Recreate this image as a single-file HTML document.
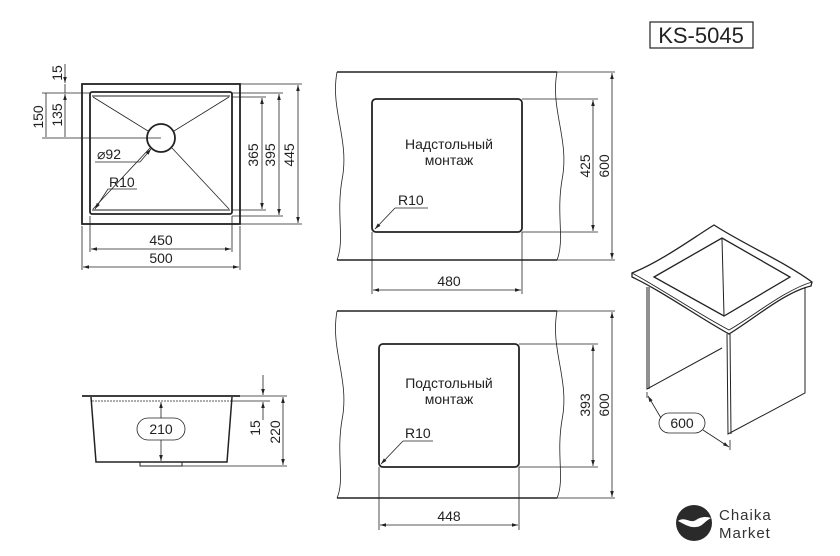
<!DOCTYPE html>
<html><head><meta charset="utf-8"><style>
html,body{margin:0;padding:0;background:#fff;}
svg{display:block;}
text{font-family:"Liberation Sans",sans-serif;fill:#222;}
</style></head><body>
<svg width="840" height="556" viewBox="0 0 840 556" xmlns="http://www.w3.org/2000/svg">
<defs>
<marker id="a" viewBox="0 0 10 10" refX="10" refY="5" markerWidth="9" markerHeight="6" orient="auto-start-reverse" markerUnits="userSpaceOnUse"><path d="M0,2L10,5L0,8z" fill="#222"/></marker>
</defs>
<g stroke="#222" fill="none">
<rect x="82" y="84" width="158" height="140" stroke-width="1.8"/>
<rect x="90" y="92" width="142" height="122" rx="2" stroke-width="1.8"/>
<line x1="92" y1="96" x2="230" y2="96" stroke-width="1"/>
<line x1="92" y1="210" x2="230" y2="210" stroke-width="1"/>
<circle cx="161" cy="138" r="14" stroke-width="1.8"/>
<g stroke-width="0.8">
<line x1="93" y1="97" x2="148" y2="131"/><line x1="229" y1="97" x2="174" y2="131"/>
<line x1="93" y1="209" x2="150" y2="148"/><line x1="229" y1="209" x2="172" y2="148"/>
<line x1="90" y1="216" x2="90" y2="252"/><line x1="232" y1="216" x2="232" y2="252"/>
<line x1="82" y1="226" x2="82" y2="270"/><line x1="240" y1="226" x2="240" y2="270"/>
<line x1="91" y1="249" x2="231" y2="249" marker-start="url(#a)" marker-end="url(#a)"/>
<line x1="83" y1="267" x2="239" y2="267" marker-start="url(#a)" marker-end="url(#a)"/>
<line x1="232" y1="97" x2="266" y2="97"/><line x1="232" y1="210" x2="266" y2="210"/>
<line x1="232" y1="93" x2="283" y2="93"/><line x1="232" y1="216" x2="283" y2="216"/>
<line x1="240" y1="84" x2="302" y2="84"/><line x1="240" y1="224" x2="302" y2="224"/>
<line x1="262" y1="98" x2="262" y2="209" marker-start="url(#a)" marker-end="url(#a)"/>
<line x1="279" y1="94" x2="279" y2="215" marker-start="url(#a)" marker-end="url(#a)"/>
<line x1="298" y1="85" x2="298" y2="223" marker-start="url(#a)" marker-end="url(#a)"/>
<line x1="42" y1="93" x2="90" y2="93"/><line x1="42" y1="138" x2="161" y2="138"/>
<line x1="65" y1="64" x2="65" y2="83" marker-end="url(#a)"/>
<line x1="65" y1="84" x2="65" y2="93"/>
<line x1="65" y1="137" x2="65" y2="94" marker-end="url(#a)"/>
<line x1="46" y1="137" x2="46" y2="93"/>
<line x1="95" y1="162" x2="140" y2="162"/><line x1="140" y1="162" x2="151" y2="149" marker-end="url(#a)"/>
<line x1="108" y1="189" x2="137" y2="189"/><line x1="108" y1="189" x2="95" y2="209" marker-end="url(#a)"/>
</g>
<path d="M337,72 L557,72 M337,260 L557,260" stroke-width="1.5"/>
<path d="M337,72 C330,110 350,140 342,180 C336,215 345,240 337,260" stroke-width="0.8"/>
<path d="M557,72 C550,110 570,140 562,180 C556,215 565,240 557,260" stroke-width="0.8"/>
<rect x="372" y="99" width="150" height="133" rx="4" stroke-width="1.8"/>
<g stroke-width="0.8">
<line x1="522" y1="99" x2="598" y2="99"/><line x1="522" y1="232" x2="598" y2="232"/>
<line x1="557" y1="72" x2="615" y2="72"/><line x1="557" y1="260" x2="615" y2="260"/>
<line x1="593" y1="100" x2="593" y2="231" marker-start="url(#a)" marker-end="url(#a)"/>
<line x1="612" y1="73" x2="612" y2="259" marker-start="url(#a)" marker-end="url(#a)"/>
<line x1="372" y1="232" x2="372" y2="294"/><line x1="522" y1="232" x2="522" y2="294"/>
<line x1="373" y1="290" x2="521" y2="290" marker-start="url(#a)" marker-end="url(#a)"/>
<line x1="395" y1="208" x2="428" y2="208"/><line x1="395" y1="208" x2="375" y2="229" marker-end="url(#a)"/>
</g>
<path d="M337,311 L557,311 M337,498 L557,498" stroke-width="1.5"/>
<path d="M337,311 C330,350 350,380 342,420 C336,455 345,480 337,498" stroke-width="0.8"/>
<path d="M557,311 C550,350 570,380 562,420 C556,455 565,480 557,498" stroke-width="0.8"/>
<rect x="379" y="344" width="140" height="123" rx="4" stroke-width="1.8"/>
<g stroke-width="0.8">
<line x1="519" y1="344" x2="598" y2="344"/><line x1="519" y1="467" x2="598" y2="467"/>
<line x1="557" y1="311" x2="615" y2="311"/><line x1="557" y1="498" x2="615" y2="498"/>
<line x1="593" y1="345" x2="593" y2="466" marker-start="url(#a)" marker-end="url(#a)"/>
<line x1="612" y1="312" x2="612" y2="497" marker-start="url(#a)" marker-end="url(#a)"/>
<line x1="379" y1="467" x2="379" y2="530"/><line x1="519" y1="467" x2="519" y2="530"/>
<line x1="380" y1="525" x2="518" y2="525" marker-start="url(#a)" marker-end="url(#a)"/>
<line x1="403" y1="441" x2="433" y2="441"/><line x1="403" y1="441" x2="381" y2="464" marker-end="url(#a)"/>
</g>
<line x1="82" y1="396" x2="240" y2="396" stroke-width="1.8"/>
<line x1="92" y1="401" x2="232" y2="401" stroke-width="0.8" stroke-dasharray="2,1"/>
<path d="M91,397 L96,462 L227,462 L232,397" stroke-width="1.5"/>
<rect x="140" y="462" width="42" height="4" stroke-width="1"/>
<g stroke-width="0.8">
<line x1="161" y1="418" x2="161" y2="402" marker-end="url(#a)"/>
<line x1="161" y1="440" x2="161" y2="461" marker-end="url(#a)"/>
<rect x="137" y="418" width="48" height="22" rx="11"/>
<line x1="240" y1="396" x2="287" y2="396"/><line x1="232" y1="401" x2="270" y2="401"/>
<line x1="182" y1="466" x2="287" y2="466"/>
<line x1="263" y1="375" x2="263" y2="395" marker-end="url(#a)"/>
<line x1="263" y1="420" x2="263" y2="402" marker-end="url(#a)"/>
<line x1="283" y1="397" x2="283" y2="465" marker-start="url(#a)" marker-end="url(#a)"/>
</g>
<rect x="650" y="22" width="103" height="26" stroke-width="1.2"/>
<path d="M632,273 C660,262 690,240 714,225 C745,245 785,262 812,282 L811,286 C785,292 755,318 729,334 C700,318 660,290 632,277 Z" stroke-width="1.3" fill="#fff"/>
<path d="M632,273 C660,288 700,315 729,330 C755,315 785,290 812,282" stroke-width="0.9"/>
<path d="M654,277 L722,238 L790,277 L724,316 Z" stroke-width="1.3"/>
<line x1="722" y1="239" x2="724" y2="315" stroke-width="1"/>
<path d="M647,287 L647,389 L722,348" stroke-width="1"/>
<line x1="649" y1="287" x2="649" y2="389" stroke-width="1"/>
<path d="M727,334 L728,434 L805,393 L805,287" stroke-width="1"/>
<line x1="730" y1="334" x2="731" y2="434" stroke-width="1"/>
<g stroke-width="0.8">
<line x1="647" y1="392" x2="647" y2="398"/><line x1="730" y1="440" x2="730" y2="450"/>
<line x1="661" y1="418" x2="648" y2="396" marker-end="url(#a)"/>
<line x1="703" y1="430" x2="729" y2="447" marker-end="url(#a)"/>
<rect x="659" y="413" width="46" height="20" rx="10"/>
</g>
</g>
<g font-size="14">
<text x="161" y="245" text-anchor="middle">450</text>
<text x="161" y="263" text-anchor="middle">500</text>
<text transform="translate(258,155) rotate(-90)" text-anchor="middle">365</text>
<text transform="translate(275,155) rotate(-90)" text-anchor="middle">395</text>
<text transform="translate(294,155) rotate(-90)" text-anchor="middle">445</text>
<text transform="translate(62,73) rotate(-90)" text-anchor="middle">15</text>
<text transform="translate(62,115) rotate(-90)" text-anchor="middle">135</text>
<text transform="translate(43,117) rotate(-90)" text-anchor="middle">150</text>
<text x="97" y="159">⌀92</text>
<text x="109" y="187">R10</text>
<text x="449" y="149" text-anchor="middle">Надстольный</text>
<text x="449" y="165" text-anchor="middle">монтаж</text>
<text x="398" y="205">R10</text>
<text transform="translate(590,166) rotate(-90)" text-anchor="middle">425</text>
<text transform="translate(609,166) rotate(-90)" text-anchor="middle">600</text>
<text x="449" y="286" text-anchor="middle">480</text>
<text x="449" y="388" text-anchor="middle">Подстольный</text>
<text x="449" y="404" text-anchor="middle">монтаж</text>
<text x="405" y="438">R10</text>
<text transform="translate(590,405) rotate(-90)" text-anchor="middle">393</text>
<text transform="translate(609,405) rotate(-90)" text-anchor="middle">600</text>
<text x="449" y="521" text-anchor="middle">448</text>
<text x="161" y="434" text-anchor="middle">210</text>
<text transform="translate(260,428) rotate(-90)" text-anchor="middle">15</text>
<text transform="translate(280,432) rotate(-90)" text-anchor="middle">220</text>
<text x="682" y="428" text-anchor="middle">600</text>
</g>
<text x="701" y="43" font-size="22" text-anchor="middle">KS-5045</text>
<circle cx="694" cy="523" r="18" fill="#2a2a2a"/>
<path d="M678,521 C685,516 690,524 696,520 C700,517 706,516 711,518 C705,521 702,527 696,527 C690,528 684,524 678,521 Z" fill="#fff"/>
<text x="719" y="520" font-size="15" letter-spacing="1" style="fill:#333">Chaika</text>
<text x="719" y="538" font-size="15" letter-spacing="1" style="fill:#333">Market</text>
</svg>
</body></html>
